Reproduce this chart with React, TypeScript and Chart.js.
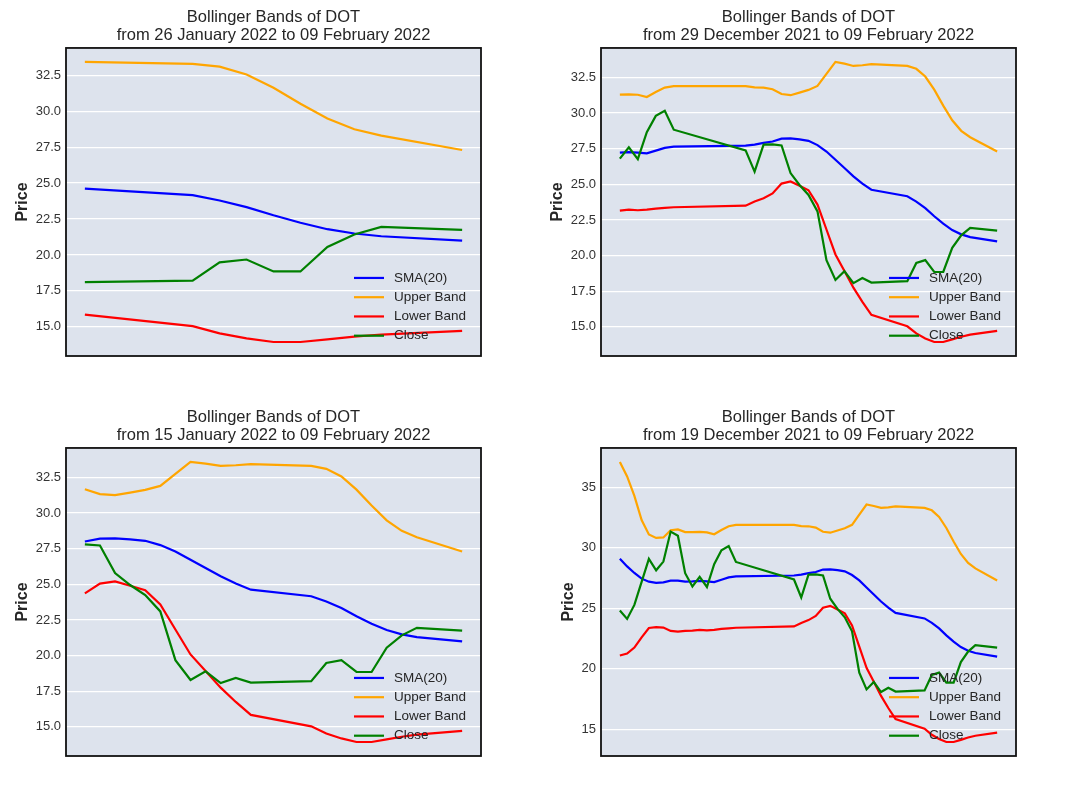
import React, { useEffect, useRef } from "react";
import { Chart, registerables } from "chart.js";

Chart.register(...registerables);

// ---------- data ----------
const dates = [
  "2021-12-19", "2021-12-20", "2021-12-21", "2021-12-22", "2021-12-23", "2021-12-24",
  "2021-12-25", "2021-12-26", "2021-12-27", "2021-12-28", "2021-12-29", "2021-12-30",
  "2021-12-31", "2022-01-01", "2022-01-02", "2022-01-03", "2022-01-04",
  "2022-01-12", "2022-01-13", "2022-01-14", "2022-01-15", "2022-01-16", "2022-01-17",
  "2022-01-18", "2022-01-19", "2022-01-20", "2022-01-21", "2022-01-22", "2022-01-23",
  "2022-01-24", "2022-01-25", "2022-01-26",
  "2022-01-30", "2022-01-31", "2022-02-01", "2022-02-02", "2022-02-03", "2022-02-04",
  "2022-02-05", "2022-02-06",
  "2022-02-09",
];

const sma20 = [
  29.1, 28.46, 27.92, 27.45, 27.2, 27.1, 27.14, 27.29, 27.29, 27.2, 27.22, 27.26, 27.22, 27.17, 27.36, 27.55, 27.64,
  27.71, 27.78, 27.9, 28.0, 28.2, 28.22, 28.15, 28.05, 27.75, 27.3, 26.72, 26.14, 25.56, 25.05, 24.62,
  24.16, 23.79, 23.33, 22.76, 22.24, 21.79, 21.49, 21.3,
  21.0,
];

const upperBand = [
  37.1, 35.9, 34.3, 32.3, 31.1, 30.82, 30.86, 31.45, 31.52, 31.3, 31.29, 31.31, 31.28, 31.12, 31.47, 31.78, 31.89,
  31.89, 31.8, 31.78, 31.67, 31.33, 31.25, 31.43, 31.62, 31.9, 32.74, 33.58, 33.46, 33.3, 33.35, 33.43,
  33.3, 33.1, 32.56, 31.64, 30.52, 29.49, 28.75, 28.3,
  27.3,
];

const lowerBand = [
  21.09, 21.25, 21.75, 22.6, 23.37, 23.44, 23.4, 23.13, 23.07, 23.13, 23.15, 23.22, 23.18, 23.22, 23.29, 23.34, 23.39,
  23.5, 23.79, 24.02, 24.36, 25.05, 25.2, 24.9, 24.58, 23.58, 21.83, 20.08, 18.92, 17.75, 16.75, 15.84,
  15.04, 14.54, 14.19, 13.94, 13.94, 14.12, 14.31, 14.46,
  14.72,
];

const closePrice = [
  24.81, 24.12, 25.28, 27.18, 29.08, 28.14, 28.86, 31.34, 31.0, 27.9, 26.8, 27.6, 26.76, 28.65, 29.8, 30.15, 28.83,
  27.38, 25.89, 27.78, 27.8, 27.72, 25.79, 24.95, 24.25, 23.1, 19.68, 18.29, 18.9, 18.07, 18.43, 18.11,
  18.21, 19.48, 19.68, 18.85, 18.85, 20.55, 21.42, 21.95,
  21.75,
];

const seriesLabels = ["SMA(20)", "Upper Band", "Lower Band", "Close"];

const panelStarts = ["2022-01-26", "2021-12-29", "2022-01-15", "2021-12-19"];

const panelTitles = [
  ["Bollinger Bands of DOT", "from 26 January 2022 to 09 February 2022"],
  ["Bollinger Bands of DOT", "from 29 December 2021 to 09 February 2022"],
  ["Bollinger Bands of DOT", "from 15 January 2022 to 09 February 2022"],
  ["Bollinger Bands of DOT", "from 19 December 2021 to 09 February 2022"],
];

const yTicksFine = [15, 17.5, 20, 22.5, 25, 27.5, 30, 32.5];
const yTicksCoarse = [15, 20, 25, 30, 35];
const panelTicks = [yTicksFine, yTicksFine, yTicksFine, yTicksCoarse];

const yAxisTitle = "Price";

// ---------- styles / layout ----------
const FONT = "'Liberation Sans', Arial, Helvetica, sans-serif";
const seriesColors = ["#0000ff", "#ffa500", "#ff0000", "#008000"];
const PLOT_BG = "#dde3ed";
const TEXT = "#262626";
const PANEL_W = 535;
const PANEL_H = 400;
const panelPos = [
  [0, 0],
  [535, 0],
  [0, 400],
  [535, 400],
];
const labelOffsets = [0, 0, 0, 11];

const DAY = 86400000;
const t0 = Date.parse(dates[0] + "T00:00:00Z");
const dayOf = (d: string) => Math.round((Date.parse(d + "T00:00:00Z") - t0) / DAY);

const plotDecor = {
  id: "plotDecor",
  beforeDraw(chart: any) {
    const { ctx, chartArea } = chart;
    ctx.save();
    ctx.fillStyle = PLOT_BG;
    ctx.fillRect(chartArea.left, chartArea.top, chartArea.right - chartArea.left, chartArea.bottom - chartArea.top);
    ctx.restore();
  },
  afterDatasetsDraw(chart: any) {
    const { ctx, chartArea } = chart;
    ctx.save();
    ctx.strokeStyle = "#111111";
    ctx.lineWidth = 1.8;
    ctx.strokeRect(chartArea.left, chartArea.top, chartArea.right - chartArea.left, chartArea.bottom - chartArea.top);
    ctx.restore();
  },
  afterDraw(chart: any) {
    const { ctx, chartArea } = chart;
    ctx.save();
    ctx.font = `13.5px ${FONT}`;
    ctx.textBaseline = "middle";
    ctx.textAlign = "left";
    chart.data.datasets.forEach((ds: any, k: number) => {
      const y = chartArea.bottom - 20.3 - (chart.data.datasets.length - 1 - k) * 19.25;
      ctx.strokeStyle = ds.borderColor;
      ctx.lineWidth = 2.2;
      ctx.beginPath();
      ctx.moveTo(chartArea.right - 127, y);
      ctx.lineTo(chartArea.right - 97, y);
      ctx.stroke();
      ctx.fillStyle = TEXT;
      ctx.fillText(ds.label, chartArea.right - 87, y);
    });
    ctx.restore();
  },
};

function Panel({ index }: { index: number }) {
  const ref = useRef<HTMLCanvasElement>(null);

  useEffect(() => {
    if (!ref.current) return;
    const s = dayOf(panelStarts[index]);
    const idx = dates.map((_, i) => i).filter((i) => dayOf(dates[i]) >= s);
    const seriesList = [sma20, upperBand, lowerBand, closePrice];
    const datasets = seriesList.map((arr, k) => ({
      label: seriesLabels[k],
      data: idx.map((i) => ({ x: dayOf(dates[i]), y: arr[i] })),
      borderColor: seriesColors[k],
      backgroundColor: seriesColors[k],
      borderWidth: 2.2,
      pointRadius: 0,
      tension: 0,
      fill: false,
      order: seriesList.length - 1 - k,
    }));
    const xs = idx.map((i) => dayOf(dates[i]));
    const xMin = Math.min(...xs);
    const xMax = Math.max(...xs);
    const xr = xMax - xMin;
    const ys = datasets.flatMap((d) => d.data.map((p) => p.y));
    const yMin = Math.min(...ys);
    const yMax = Math.max(...ys);
    const yr = yMax - yMin;
    const ticks = panelTicks[index];
    const decimals = ticks.every((v) => Number.isInteger(v)) ? 0 : 1;

    const chart = new Chart(ref.current, {
      type: "line",
      data: { datasets },
      options: {
        animation: false,
        responsive: false,
        maintainAspectRatio: false,
        devicePixelRatio: window.devicePixelRatio || 1,
        layout: { padding: { left: 13, right: 54, top: 0, bottom: 44 } },
        plugins: {
          legend: { display: false },
          tooltip: { enabled: false },
          title: {
            display: true,
            fullSize: false,
            text: panelTitles[index],
            color: TEXT,
            font: { family: FONT, size: 16.5, weight: "normal", lineHeight: 1.12 },
            padding: { top: 8, bottom: 3 },
          },
        },
        scales: {
          x: {
            type: "linear",
            display: false,
            min: xMin - 0.05 * xr,
            max: xMax + 0.05 * xr,
          },
          y: {
            type: "linear",
            min: yMin - 0.05 * yr,
            max: yMax + 0.05 * yr,
            afterFit: (scale: any) => {
              scale.width = 53;
            },
            afterBuildTicks: (scale: any) => {
              scale.ticks = ticks.map((v) => ({ value: v }));
            },
            border: { display: false },
            grid: { color: "#ffffff", lineWidth: 1.3, drawTicks: false },
            ticks: {
              autoSkip: false,
              padding: 5,
              color: "#333333",
              font: { family: FONT, size: 13 },
              callback: (v: any) => Number(v).toFixed(decimals),
            },
            title: {
              display: true,
              text: yAxisTitle,
              color: TEXT,
              font: { family: FONT, size: 16, weight: "bold", lineHeight: 1.2 },
              padding: { top: labelOffsets[index], bottom: 0 },
            },
          },
        },
      },
      plugins: [plotDecor],
    } as any);

    return () => chart.destroy();
  }, [index]);

  const [left, top] = panelPos[index];
  return (
    <div style={{ position: "absolute", left, top, width: PANEL_W, height: PANEL_H }}>
      <canvas ref={ref} width={PANEL_W} height={PANEL_H} style={{ width: PANEL_W, height: PANEL_H }} />
    </div>
  );
}

export default function App() {
  return (
    <div style={{ position: "absolute", left: 0, top: 0, width: 1068, height: 801, background: "#ffffff" }}>
      {panelStarts.map((_, i) => (
        <Panel key={i} index={i} />
      ))}
    </div>
  );
}
